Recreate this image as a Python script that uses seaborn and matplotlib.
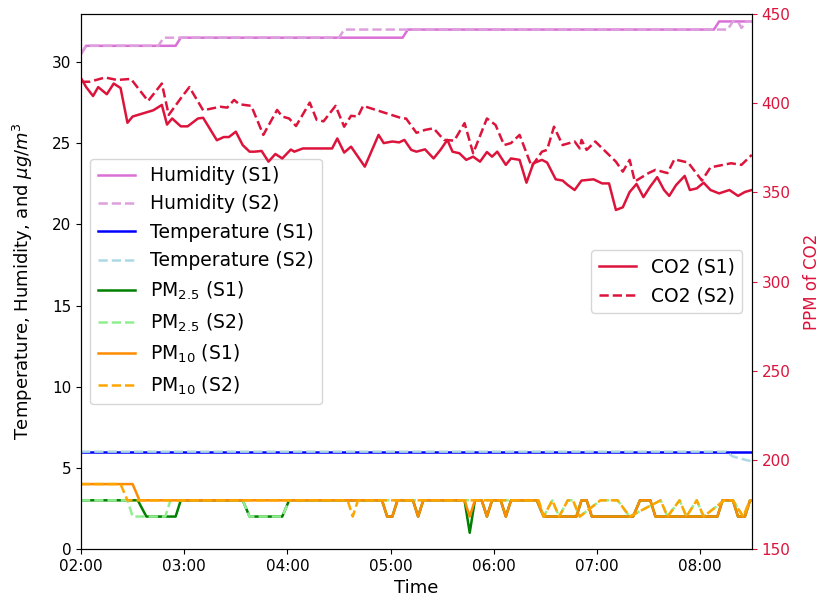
import matplotlib
matplotlib.use("Agg")
import matplotlib.pyplot as plt
import matplotlib.dates as mdates
from matplotlib.lines import Line2D
import seaborn as sns
import pandas as pd

BASE = pd.Timestamp("2020-01-01 02:00")

# ---- CO2 (ppm), minutes after 02:00 ----
co2_s1_t = [0, 3, 7, 10, 15, 19, 23, 27, 30, 42, 47, 50, 53, 58, 62, 68, 71, 79, 83, 86, 90, 94, 98,
            101, 105, 109, 113, 117, 122, 124, 129, 134, 139, 146, 149, 153, 157, 165, 173, 176, 181,
            185, 188, 192, 195, 200, 205, 209, 213, 216, 220, 224, 228, 232, 236, 239, 242, 247, 250,
            255, 259, 263, 268, 271, 276, 280, 283, 287, 291, 298, 303, 307, 311, 315, 319, 323, 327,
            331, 335, 339, 342, 346, 351, 354, 358, 362, 366, 371, 377, 382, 386, 390]
co2_s1 = [414, 409, 404, 409, 405, 411, 408.5, 389, 392.5, 396, 399, 388, 391.4, 387, 387, 391.4, 391.8,
          379.2, 381, 381, 384, 376.5, 372.8, 372.8, 373.2, 367.2, 371.5, 369, 374, 372.8, 374.6, 374.6,
          374.6, 374.6, 380.2, 372.3, 375.6, 364.4, 382.2, 377.6, 378.5, 378, 379.4, 373.8, 372.8, 374.1,
          369, 373.8, 379.4, 372.8, 371.9, 368.2, 370, 367.2, 372.6, 370, 372.8, 365.4, 369, 368.2, 355.4,
          366.3, 368.2, 366.7, 357.3, 356.6, 354.1, 351.3, 356.6, 357.3, 355, 355, 340.1, 341.6, 350.2,
          354.7, 347.3, 353.3, 358.5, 351.3, 348, 354.1, 359.2, 351.3, 352.2, 355.4, 351.3, 349.4, 351.3,
          348, 350.2, 351.3]

co2_s2_t = [0, 5, 14, 21, 29, 34, 39, 47, 51, 58, 63, 68, 71, 81, 85, 89, 92, 95, 99, 106, 114, 117,
            121, 125, 133, 137, 141, 148, 153, 157, 161, 164, 187, 189, 195, 197, 200, 205, 211, 217,
            223, 228, 236, 241, 246, 250, 255, 262, 268, 271, 275, 280, 287, 290, 291, 294, 299, 306,
            311, 315, 319, 322, 330, 334, 341, 345, 353, 361, 366, 378, 384, 390]
co2_s2 = [412, 412, 414.4, 413, 413.6, 407.4, 401.2, 411, 393.4, 402.7, 409, 400.9, 396, 398, 397.5,
          401.8, 399.4, 399, 398.5, 382.2, 396.2, 392.5, 391.4, 387.2, 400.3, 390.7, 389.8, 398.5, 386.8,
          392.9, 392.5, 398.5, 391.4, 391.4, 383.4, 383.9, 385, 385.9, 379.4, 379, 388.8, 371.9, 391.4,
          387.8, 376.5, 377.6, 382.2, 364.5, 372.8, 373.8, 386.8, 376.5, 378.5, 374.6, 379.4, 373.8,
          378.5, 371.9, 367.2, 361.6, 368.2, 356.1, 360.8, 362.6, 360.8, 368.5, 366.7, 356.6, 364,
          366.3, 365.4, 371]

# ---- Humidity ----
hum_s1_t = [0, 3, 55, 58, 187, 190, 368, 371, 390]
hum_s1 = [30.5, 31, 31, 31.5, 31.5, 32, 32, 32.5, 32.5]
hum_s2_t = [0, 3, 45, 48, 150, 153, 376, 379, 382, 384, 387, 390]
hum_s2 = [30.5, 31, 31, 31.5, 31.5, 32, 32, 32.5, 32.5, 32.1, 32.5, 32.5]

# ---- Temperature ----
temp_s1_t = [0, 390]
temp_s1 = [6, 6]
temp_s2_t = [0, 375, 379, 386, 390]
temp_s2 = [6, 6, 5.7, 5.5, 5.4]

# ---- PM10 ----
pm10_s1_t = [0, 30, 34, 175, 178, 181, 184, 193, 196, 199, 223, 226, 229, 233, 236, 239, 244, 247,
             250, 265, 269, 288, 291, 294, 297, 321, 325, 331, 334, 370, 373, 379, 382, 386, 389, 390]
pm10_s1 = [4, 4, 3, 3, 2, 2, 3, 3, 2, 3, 3, 2, 3, 3, 2, 3, 3, 2,
           3, 3, 2, 2, 3, 3, 2, 2, 3, 3, 2, 2, 3, 3, 2, 2, 3, 3]
pm10_s2_t = [0, 23, 27, 155, 158, 161, 266, 269, 274, 278, 283, 286, 290, 302, 312, 319, 337, 341,
             348, 352, 358, 362, 374, 379, 385, 389, 390]
pm10_s2 = [4, 4, 3, 3, 2, 3, 3, 2, 3, 2, 3, 3, 2, 3, 3, 2, 3, 2,
           3, 2, 3, 2, 3, 3, 2, 3, 3]

# ---- PM2.5 ----
pm25_s1_t = [0, 33, 38, 55, 58, 94, 98, 117, 121, 175, 178, 181, 184, 193, 196, 199, 223, 226, 229,
             233, 236, 239, 244, 247, 250, 265, 269, 288, 291, 294, 297, 321, 325, 331, 334, 370,
             373, 379, 382, 386, 389, 390]
pm25_s1 = [3, 3, 2, 2, 3, 3, 2, 2, 3, 3, 2, 2, 3, 3, 2, 3, 3, 1, 3,
           3, 2, 3, 3, 2, 3, 3, 2, 2, 3, 3, 2, 2, 3, 3, 2, 2,
           3, 3, 2, 2, 3, 3]
pm25_s2_t = [0, 27, 30, 49, 52, 94, 98, 117, 121, 266, 269, 274, 278, 283, 286, 290, 302, 312, 319,
             337, 341, 348, 352, 358, 362, 374, 379, 385, 389, 390]
pm25_s2 = [3, 3, 2, 2, 3, 3, 2, 2, 3, 3, 2, 3, 2, 3, 3, 2, 3, 3, 2,
           3, 2, 3, 2, 3, 2, 3, 3, 2, 3, 3]


def frame(t, v):
    return pd.DataFrame({"time": BASE + pd.to_timedelta(t, unit="min"), "value": v})


fig = plt.figure(figsize=(8.2, 6.08), dpi=100)
ax = fig.add_axes([0.0988, 0.097, 0.818, 0.880])

left_series = [
    (hum_s1_t, hum_s1, "orchid", "-", "Humidity (S1)"),
    (hum_s2_t, hum_s2, "plum", "--", "Humidity (S2)"),
    (temp_s1_t, temp_s1, "blue", "-", "Temperature (S1)"),
    (temp_s2_t, temp_s2, "lightblue", "--", "Temperature (S2)"),
    (pm25_s1_t, pm25_s1, "green", "-", "PM$_{2.5}$ (S1)"),
    (pm25_s2_t, pm25_s2, "lightgreen", "--", "PM$_{2.5}$ (S2)"),
    (pm10_s1_t, pm10_s1, "darkorange", "-", "PM$_{10}$ (S1)"),
    (pm10_s2_t, pm10_s2, "orange", "--", "PM$_{10}$ (S2)"),
]
handles = []
for t, v, c, ls, lab in left_series:
    sns.lineplot(data=frame(t, v), x="time", y="value", ax=ax, color=c, linestyle=ls,
                 linewidth=1.8, estimator=None)
    handles.append(Line2D([], [], color=c, linestyle=ls, linewidth=1.8, label=lab))

ax.set_ylim(0, 32.96)
ax.set_xlim(BASE, BASE + pd.Timedelta(minutes=390))
ax.xaxis.set_major_locator(mdates.HourLocator())
ax.xaxis.set_major_formatter(mdates.DateFormatter("%H:%M"))
ax.set_xlabel("Time", fontsize=13)
ax.set_ylabel(r"Temperature, Humidity, and $\mu g/m^3$", fontsize=13, labelpad=12)
ax.tick_params(labelsize=11)

ax2 = ax.twinx()
co2_handles = []
for t, v, ls, lab in [(co2_s1_t, co2_s1, "-", "CO2 (S1)"), (co2_s2_t, co2_s2, "--", "CO2 (S2)")]:
    sns.lineplot(data=frame(t, v), x="time", y="value", ax=ax2, color="crimson", linestyle=ls,
                 linewidth=1.8, estimator=None)
    co2_handles.append(Line2D([], [], color="crimson", linestyle=ls, linewidth=1.8, label=lab))
ax2.set_ylim(150, 450)
ax2.set_xlim(BASE, BASE + pd.Timedelta(minutes=390))
ax2.set_ylabel("PPM of CO2", color="crimson", fontsize=12, labelpad=9)
ax2.tick_params(axis="y", colors="crimson", labelsize=11)
ax2.set_xlabel("")

ax.legend(handles=handles, loc="center left", fontsize=13.5)
ax2.legend(handles=co2_handles, loc="center right", fontsize=13.5)

fig.savefig("out.png", dpi=100)
